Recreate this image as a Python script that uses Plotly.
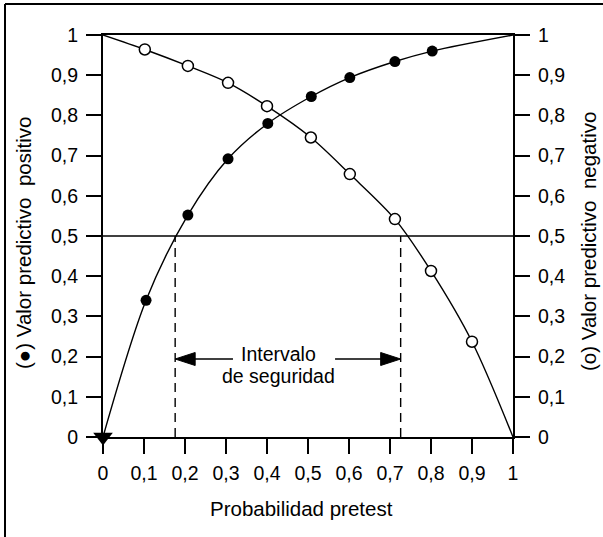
import plotly.graph_objects as go

# ---- data ----
pretest = [0.0, 0.105, 0.207, 0.305, 0.402, 0.508, 0.602, 0.712, 0.803, 1.0]
vpp = [0.0, 0.34, 0.552, 0.692, 0.78, 0.847, 0.894, 0.934, 0.96, 1.0]

pretest_n = [0.0, 0.102, 0.207, 0.305, 0.4, 0.507, 0.602, 0.712, 0.8, 0.9, 1.0]
vpn = [1.0, 0.964, 0.923, 0.881, 0.823, 0.745, 0.654, 0.542, 0.413, 0.237, 0.0]

tick_vals = [0, 0.1, 0.2, 0.3, 0.4, 0.5, 0.6, 0.7, 0.8, 0.9, 1]
tick_text = ["0", "0,1", "0,2", "0,3", "0,4", "0,5", "0,6", "0,7", "0,8", "0,9", "1"]

threshold = 0.5
interval = [0.176, 0.726]
arrow_y = 0.194
arrow_text_x = [0.317, 0.566]

W, H = 603, 537
L, R, T, B = 103, 90, 35, 100
PW, PH = W - L - R, H - T - B


def px2x(px):
    return (px - L) / PW


def py2y(py):
    return (H - B - py) / PH


FONT = "Liberation Sans, Arial, Helvetica, sans-serif"
BLACK = "#000000"

fig = go.Figure()

sym = ["triangle-down"] + ["circle"] * (len(pretest) - 1)
sizes = [17] + [11] * (len(pretest) - 2) + [0]
fig.add_trace(go.Scatter(
    x=pretest, y=vpp, mode="lines",
    line=dict(color=BLACK, width=1.4, shape="spline", smoothing=0.9),
    cliponaxis=False, showlegend=False, yaxis="y"))
fig.add_trace(go.Scatter(
    x=pretest, y=vpp, mode="markers",
    marker=dict(symbol=sym, size=sizes, color=BLACK, opacity=1,
                line=dict(width=0, color=BLACK)),
    cliponaxis=False, showlegend=False, yaxis="y"))

sizes_n = [0] + [11] * (len(pretest_n) - 2) + [0]
fig.add_trace(go.Scatter(
    x=pretest_n, y=vpn, mode="lines",
    line=dict(color=BLACK, width=1.4, shape="spline", smoothing=0.9),
    cliponaxis=False, showlegend=False, yaxis="y2"))
fig.add_trace(go.Scatter(
    x=pretest_n, y=vpn, mode="markers",
    marker=dict(symbol="circle", size=sizes_n, color="white", opacity=1,
                line=dict(width=1.5, color=BLACK)),
    cliponaxis=False, showlegend=False, yaxis="y2"))

shapes = []
# threshold line
shapes.append(dict(type="line", xref="x", yref="y", x0=0, x1=1, y0=threshold, y1=threshold,
                   line=dict(color=BLACK, width=1.4), layer="below"))
# dashed interval limits
for xv in interval:
    shapes.append(dict(type="line", xref="x", yref="y", x0=xv, x1=xv, y0=0, y1=threshold,
                       line=dict(color=BLACK, width=1.4, dash="9px,6px")))
# arrow shafts
shapes.append(dict(type="line", xref="x", yref="y", x0=interval[0] + 0.02, x1=arrow_text_x[0],
                   y0=arrow_y, y1=arrow_y, line=dict(color=BLACK, width=1.6)))
shapes.append(dict(type="line", xref="x", yref="y", x0=arrow_text_x[1], x1=interval[1] - 0.02,
                   y0=arrow_y, y1=arrow_y, line=dict(color=BLACK, width=1.6)))
# arrow heads
shapes.append(dict(type="path", xref="x", yref="y", xsizemode="pixel", ysizemode="pixel",
                   xanchor=interval[0], yanchor=arrow_y,
                   path="M0,0 L20,6.5 L20,-6.5 Z", fillcolor=BLACK, line=dict(color=BLACK, width=1)))
shapes.append(dict(type="path", xref="x", yref="y", xsizemode="pixel", ysizemode="pixel",
                   xanchor=interval[1], yanchor=arrow_y,
                   path="M0,0 L-20,6.5 L-20,-6.5 Z", fillcolor=BLACK, line=dict(color=BLACK, width=1)))
# outer frame (top and left)
shapes.append(dict(type="line", xref="paper", yref="paper", x0=px2x(5), x1=px2x(603),
                   y0=py2y(4), y1=py2y(4), line=dict(color=BLACK, width=2)))
shapes.append(dict(type="line", xref="paper", yref="paper", x0=px2x(5), x1=px2x(5),
                   y0=py2y(4), y1=py2y(537), line=dict(color=BLACK, width=2)))

annotations = [
    dict(text="Intervalo", x=0.429, y=0.207, xref="x", yref="y", showarrow=False,
         font=dict(size=19.5, family=FONT, color=BLACK)),
    dict(text="de seguridad", x=0.429, y=0.152, xref="x", yref="y", showarrow=False,
         font=dict(size=19.5, family=FONT, color=BLACK)),
    dict(text="(\u25cf) Valor predictivo\u00a0\u00a0positivo", textangle=-90,
         x=px2x(23), y=py2y(243), xref="paper", yref="paper", showarrow=False,
         xanchor="center", yanchor="middle", font=dict(size=20.5, family=FONT, color=BLACK)),
    dict(text="(o) Valor predictivo\u00a0\u00a0negativo", textangle=-90,
         x=px2x(588), y=py2y(242), xref="paper", yref="paper", showarrow=False,
         xanchor="center", yanchor="middle", font=dict(size=20.5, family=FONT, color=BLACK)),
    dict(text="Probabilidad pretest", x=px2x(301), y=py2y(508), xref="paper", yref="paper",
         showarrow=False, xanchor="center", yanchor="middle",
         font=dict(size=20.5, family=FONT, color=BLACK)),
]

axis_common = dict(range=[0, 1], tickvals=tick_vals, ticktext=tick_text, ticks="outside",
                   ticklen=15, tickwidth=1.6, tickcolor=BLACK, showline=True, linecolor=BLACK,
                   linewidth=2, showgrid=False, zeroline=False,
                   tickfont=dict(size=19.5, family=FONT, color=BLACK))

fig.update_layout(
    width=W, height=H, margin=dict(l=L, r=R, t=T, b=B, pad=0),
    paper_bgcolor="white", plot_bgcolor="white",
    xaxis=dict(**axis_common, mirror=True, ticklabelstandoff=3),
    yaxis=dict(**axis_common, ticklabelstandoff=4),
    yaxis2=dict(**axis_common, overlaying="y", side="right", ticklabelstandoff=4),
    shapes=shapes, annotations=annotations, showlegend=False,
)

fig.write_html("out.html")
